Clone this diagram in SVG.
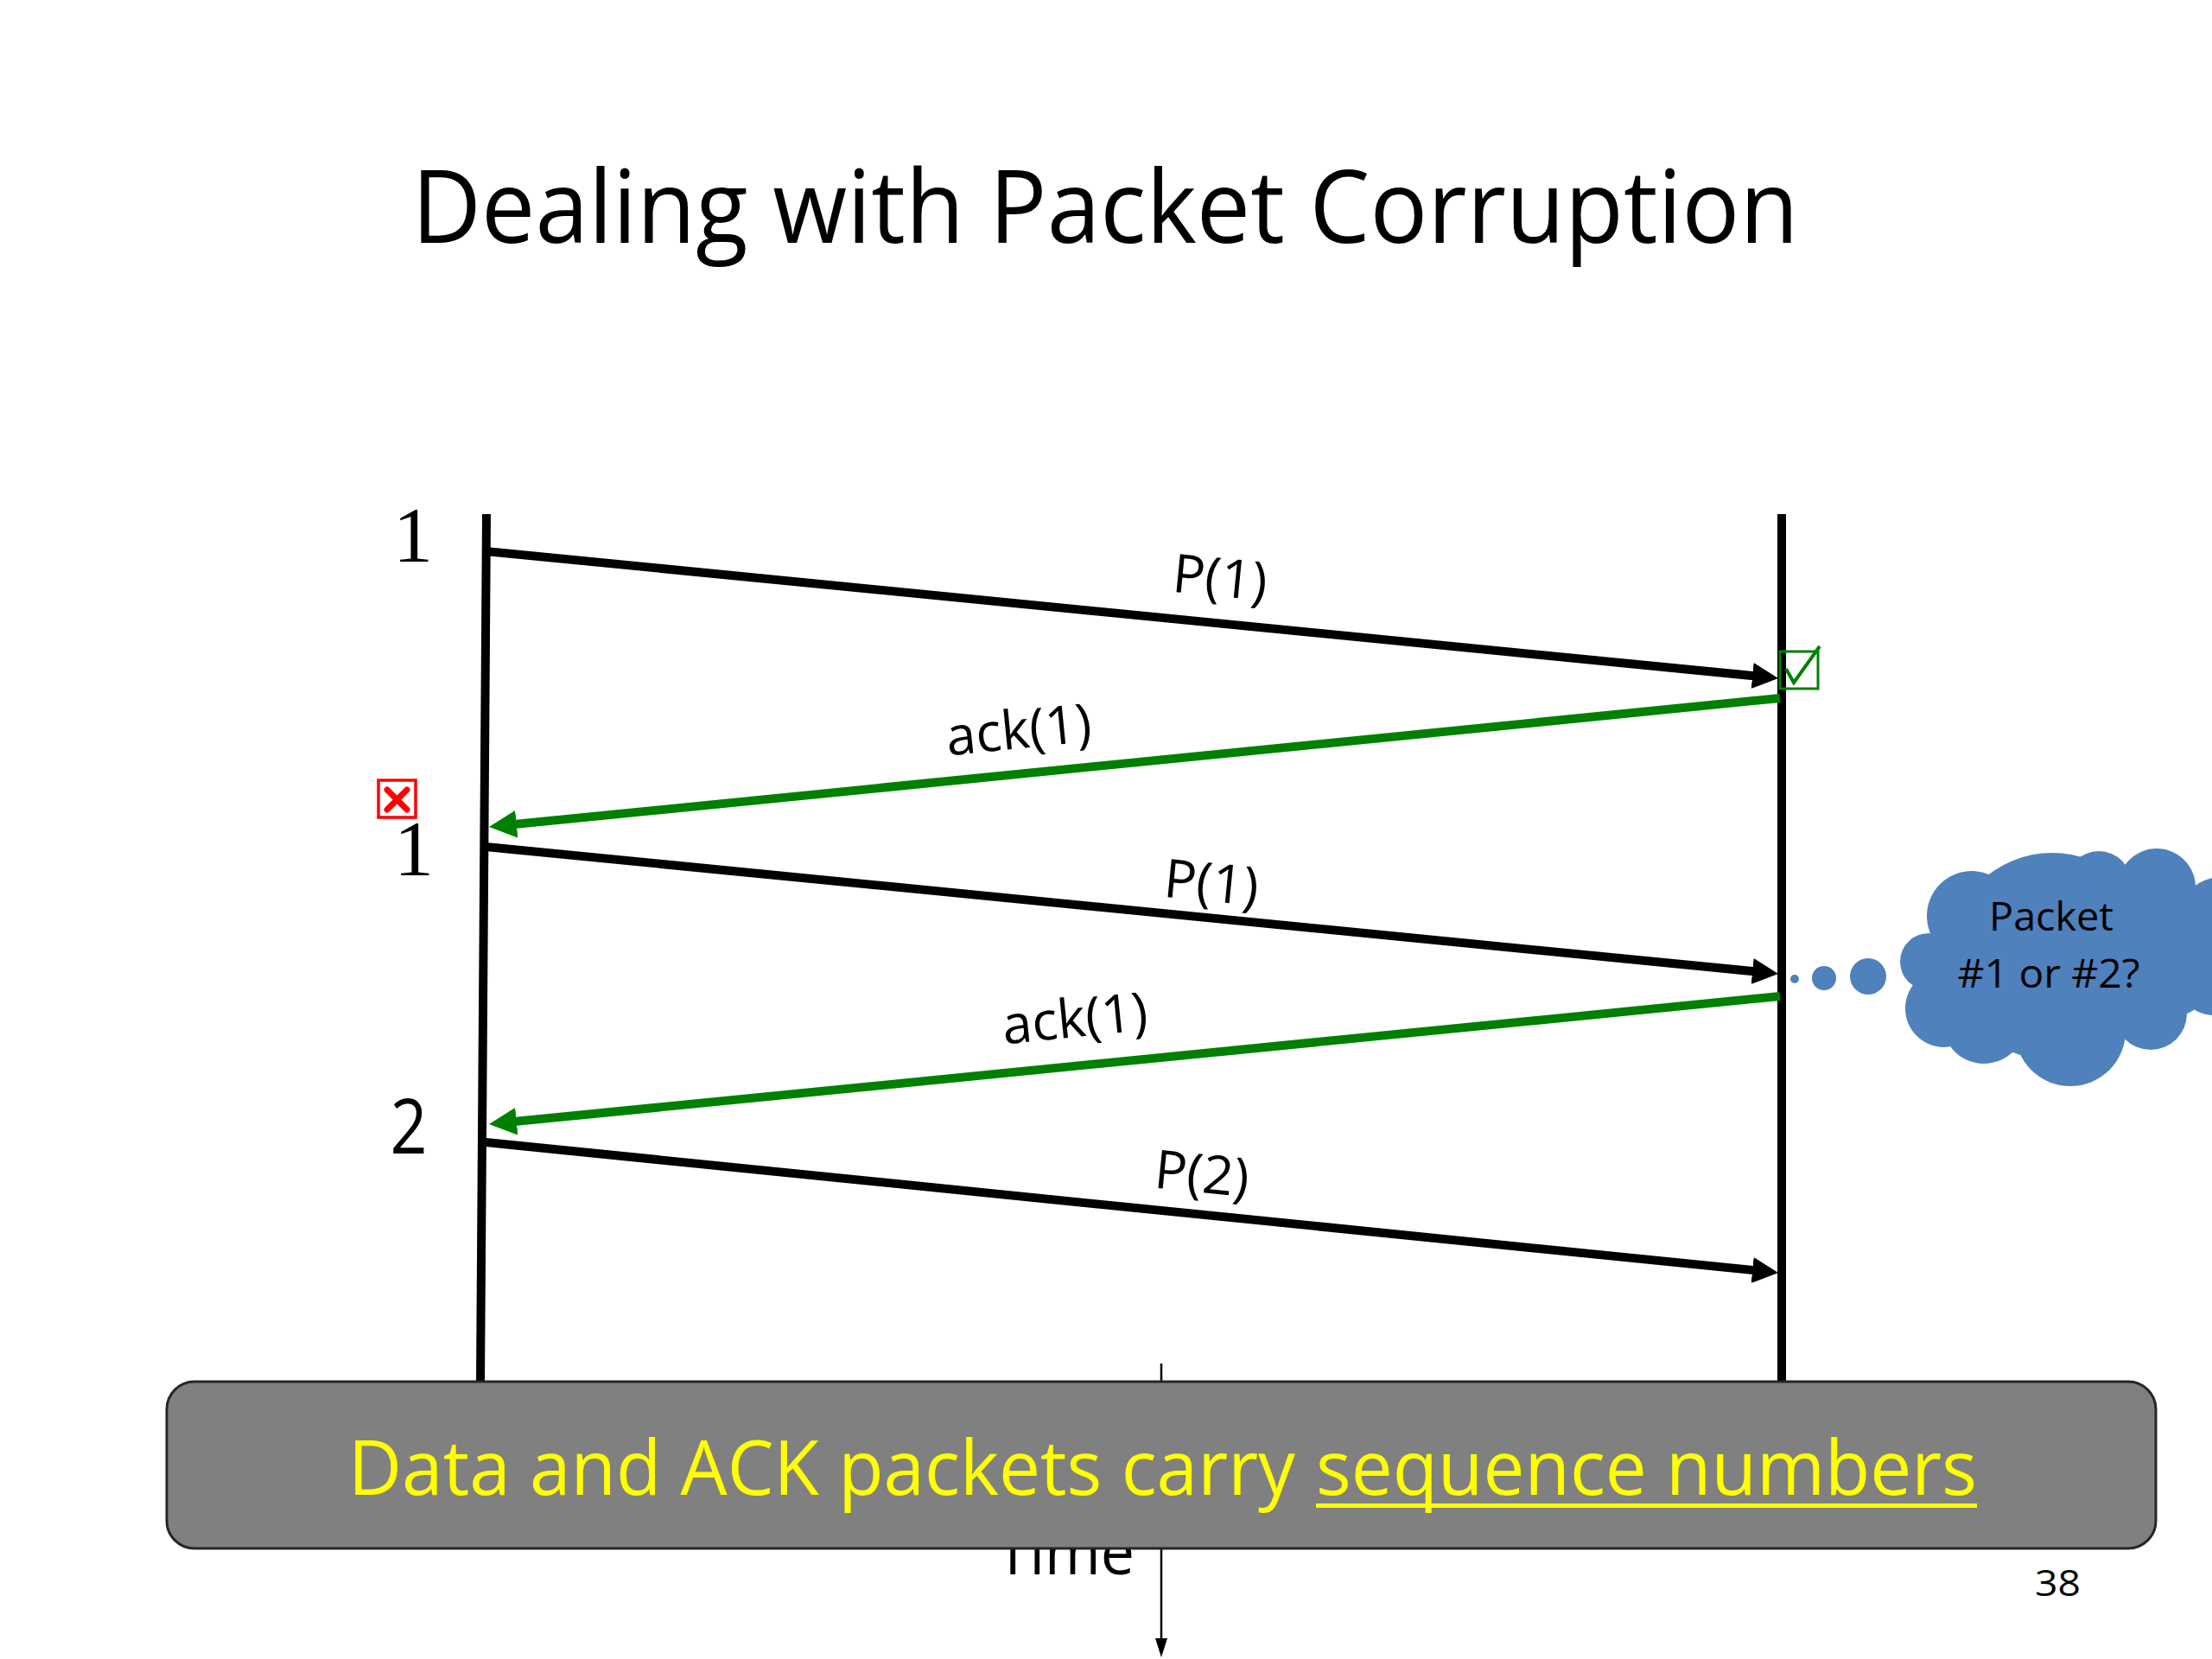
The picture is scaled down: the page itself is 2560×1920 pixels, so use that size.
<svg xmlns="http://www.w3.org/2000/svg" width="2560" height="1920" viewBox="0 0 2560 1920">
<style>
.sans{font-family:"Open Sans","Noto Sans","Liberation Sans",sans-serif;}
.serif{font-family:"Liberation Serif","DejaVu Serif",serif;}
.tl{stroke:#000;stroke-width:10;fill:none;}
.data{stroke:#000;stroke-width:10;fill:none;marker-end:url(#ahB);}
.ack{stroke:#008000;stroke-width:10;fill:none;marker-end:url(#ahG);}
.lbl{font-size:62px;fill:#000;text-anchor:middle;}
.num{font-size:92px;fill:#000;text-anchor:middle;}
.cloud{fill:#4F81BD;}
</style>
<defs>
<marker id="ahB" markerUnits="userSpaceOnUse" viewBox="0 0 30 30" markerWidth="30" markerHeight="30" refX="16" refY="15" orient="auto">
<path d="M0,0 L30,15 L0,30 z" fill="#000"/>
</marker>
<marker id="ahG" markerUnits="userSpaceOnUse" viewBox="0 0 32 32" markerWidth="32" markerHeight="32" refX="18" refY="16" orient="auto">
<path d="M0,0 L32,16 L0,32 z" fill="#008000"/>
</marker>
<marker id="ahT" markerUnits="userSpaceOnUse" viewBox="0 0 22 14" markerWidth="22" markerHeight="14" refX="11" refY="7" orient="auto">
<path d="M0,0 L22,7 L0,14 z" fill="#000"/>
</marker>
</defs>
<rect width="2560" height="1920" fill="#fff"/>

<text id="title" class="sans" x="1279" y="281" font-size="118" text-anchor="middle" textLength="1605" lengthAdjust="spacingAndGlyphs" fill="#000">Dealing with Packet Corruption</text>

<g id="sender">
<line class="tl" x1="563" y1="595" x2="556" y2="1600"/>
<text class="serif num" x="478" y="650">1</text>
<text class="serif num" x="479" y="1013">1</text>
<text class="sans" x="473" y="1335" font-size="88" text-anchor="middle" textLength="43" lengthAdjust="spacingAndGlyphs">2</text>
</g>
<g id="receiver">
<line class="tl" x1="2062" y1="595" x2="2062" y2="1600"/>
</g>

<g id="time-axis">
<line x1="1344" y1="1578" x2="1344" y2="1907" stroke="#000" stroke-width="2.5" marker-end="url(#ahT)"/>
<text class="sans" x="1153" y="1822" font-size="74" textLength="160" lengthAdjust="spacingAndGlyphs">Time</text>
</g>

<g id="connectors">
<line class="data" x1="562" y1="638" x2="2044.1" y2="783.6"/>
<line class="ack" x1="2060" y1="808" x2="579.9" y2="955.6"/>
<line class="data" x1="562" y1="980" x2="2044.1" y2="1125.6"/>
<line class="ack" x1="2060" y1="1153" x2="579.9" y2="1299.6"/>
<line class="data" x1="562" y1="1322" x2="2044.1" y2="1471.6"/>
</g>

<g id="labels">
<text class="sans lbl" x="1410" y="690" transform="rotate(5.6 1410 690)">P(1)</text>
<text class="sans lbl" x="1181" y="866" transform="rotate(-5.7 1181 866)">ack(1)</text>
<text class="sans lbl" x="1400" y="1043" transform="rotate(5.6 1400 1043)">P(1)</text>
<text class="sans lbl" x="1246" y="1200" transform="rotate(-5.7 1246 1200)">ack(1)</text>
<text class="sans lbl" x="1389" y="1380" transform="rotate(5.7 1389 1380)">P(2)</text>
</g>

<g id="ok-mark">
<rect x="2060" y="754" width="44" height="43" fill="none" stroke="#008000" stroke-width="3"/>
<path d="M2067,774 L2076,790 L2106,748" fill="none" stroke="#008000" stroke-width="4"/>
</g>

<g id="corrupt-mark">
<rect x="438" y="903" width="43" height="43" fill="none" stroke="#ff0000" stroke-width="3.5"/>
<path d="M448,914 L471,937 M471,914 L448,937" stroke="#ff0000" stroke-width="7" stroke-linecap="round"/>
</g>

<g id="thought">
<circle class="cloud" cx="2077" cy="1133" r="5"/>
<circle class="cloud" cx="2111" cy="1132" r="14"/>
<circle class="cloud" cx="2162" cy="1130" r="21"/>
<g class="cloud">
<circle cx="2375" cy="1107" r="120"/>
<circle cx="2500" cy="1105" r="75"/>
<circle cx="2232" cy="1113" r="33"/>
<circle cx="2282" cy="1060" r="52"/>
<circle cx="2364" cy="1027" r="36"/>
<circle cx="2429" cy="1023" r="38"/>
<circle cx="2496" cy="1027" r="45"/>
<circle cx="2571" cy="1067" r="52"/>
<circle cx="2561" cy="1137" r="38"/>
<circle cx="2489" cy="1173" r="42"/>
<circle cx="2396" cy="1193" r="64"/>
<circle cx="2296" cy="1183" r="48"/>
<circle cx="2250" cy="1167" r="45"/>
</g>
<text class="sans" x="2374" y="1077" font-size="46" text-anchor="middle" textLength="144" lengthAdjust="spacingAndGlyphs" fill="#000">Packet</text>
<text class="sans" x="2371" y="1143" font-size="46" text-anchor="middle" textLength="211" lengthAdjust="spacingAndGlyphs" fill="#000">#1 or #2?</text>
</g>

<g id="callout">
<rect x="193" y="1599" width="2302" height="193" rx="32" ry="32" fill="#808080" stroke="#262626" stroke-width="3"/>
<text class="sans" x="403" y="1730" font-size="88" fill="#ffff00" textLength="1096" lengthAdjust="spacingAndGlyphs">Data and ACK packets carry</text>
<text class="sans" x="1523" y="1730" font-size="88" fill="#ffff00" textLength="765" lengthAdjust="spacingAndGlyphs">sequence numbers</text>
<rect x="1523" y="1740" width="765" height="5" fill="#ffff00"/>
</g>

<text id="page" class="sans" x="2355" y="1847" font-size="42" textLength="53" lengthAdjust="spacingAndGlyphs" fill="#000">38</text>
</svg>
